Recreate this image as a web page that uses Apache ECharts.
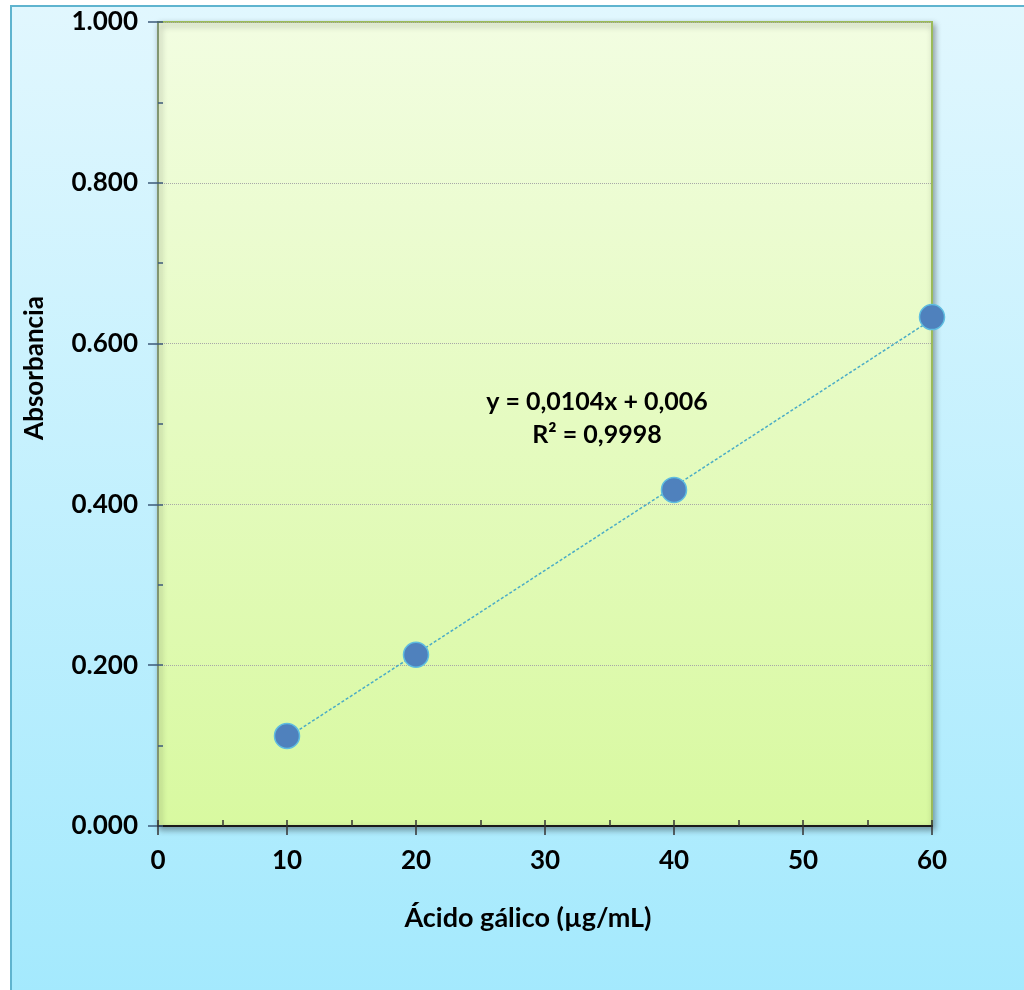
<!DOCTYPE html>
<html><head><meta charset="utf-8">
<style>html,body{margin:0;padding:0;background:#fff}#c{width:1024px;height:990px}</style>
<script src="https://cdn.jsdelivr.net/npm/echarts@6/dist/echarts.min.js"></script>
</head><body><div id="c"></div>
<script>
// Data
const concentrations = [10, 20, 40, 60];
const absorbances = [0.112, 0.213, 0.418, 0.633];
const trendSlope = 0.0104;
const trendIntercept = 0.006;
const trendRange = [10, 60];
const xTitle = 'Ácido gálico (µg/mL)';
const yTitle = 'Absorbancia';
const equationLines = ['y = 0,0104x + 0,006', 'R² = 0,9998'];

const points = concentrations.map((x, i) => [x, absorbances[i]]);
const trendPoints = trendRange.map(x => [x, trendSlope * x + trendIntercept]);

const FONT = 'Lato';
const chart = echarts.init(document.getElementById('c'), null, {renderer: 'canvas'});
const grad = (a, b) => ({type: 'linear', x: 0, y: 0, x2: 0, y2: 1, colorStops: [{offset: 0, color: a}, {offset: 1, color: b}]});

chart.setOption({
  animation: false,
  graphic: [
    {type: 'rect', z: -10, shape: {x: 11, y: 6, width: 1030, height: 1000},
     style: {fill: grad('#e1f7fe', '#a3e9fd'), stroke: '#5fb4cf', lineWidth: 2}},
    {type: 'text', z: 10, style: {text: xTitle, font: 'bold 27px ' + FONT, fill: '#000', x: 528, y: 918, textAlign: 'center', textVerticalAlign: 'middle'}},
    {type: 'text', z: 10, rotation: Math.PI / 2, x: 35, y: 368, style: {text: yTitle, font: 'bold 26px ' + FONT, fill: '#000', x: 0, y: 0, textAlign: 'center', textVerticalAlign: 'middle'}},
    {type: 'text', z: 10, style: {text: equationLines[0], font: 'bold 25px ' + FONT, fill: '#000', x: 597, y: 402, textAlign: 'center', textVerticalAlign: 'middle'}},
    {type: 'text', z: 10, style: {text: equationLines[1], font: 'bold 25px ' + FONT, fill: '#000', x: 597, y: 435, textAlign: 'center', textVerticalAlign: 'middle'}}
  ],
  grid: {left: 158, top: 22, right: 92, bottom: 164, show: true,
    backgroundColor: grad('#f2fde1', '#d8f9a0'), borderColor: '#9bbb59', borderWidth: 2,
    shadowColor: 'rgba(0,0,0,0.35)', shadowBlur: 6, shadowOffsetX: 2, shadowOffsetY: 3},
  xAxis: [
    {type: 'value', min: 0, max: 60, interval: 10, position: 'bottom',
     axisLine: {show: true, onZero: false, lineStyle: {color: '#1a1a1a', width: 2}},
     axisTick: {show: true, inside: false, length: 9, lineStyle: {color: '#333', width: 1.5}},
     minorTick: {show: false},
     axisLabel: {margin: 22, fontFamily: FONT, fontWeight: 'bold', fontSize: 26, color: '#000'},
     splitLine: {show: false}},
    {type: 'value', min: 0, max: 60, interval: 10, position: 'bottom', offset: 0,
     axisLine: {show: false},
     axisTick: {show: true, inside: true, length: 6, lineStyle: {color: '#333', width: 1.5}},
     minorTick: {show: true, splitNumber: 2, length: 6, lineStyle: {color: '#333', width: 1.5}},
     axisLabel: {show: false}, splitLine: {show: false}}
  ],
  yAxis: [
    {type: 'value', min: 0, max: 1, interval: 0.2, position: 'left',
     axisLine: {show: true, onZero: false, lineStyle: {color: '#7a8a7a', width: 1.5}},
     axisTick: {show: true, inside: false, length: 10, lineStyle: {color: '#3c5a78', width: 1.5}},
     axisLabel: {margin: 20, fontFamily: FONT, fontWeight: 'bold', fontSize: 26, color: '#000', formatter: v => v.toFixed(3)},
     splitLine: {show: true, lineStyle: {color: '#a8a8a8', type: 'dotted', width: 1}}},
    {type: 'value', min: 0, max: 1, interval: 0.2, position: 'left', offset: 0,
     axisLine: {show: false},
     axisTick: {show: true, inside: true, length: 5, lineStyle: {color: '#3c5a78', width: 1.5}},
     minorTick: {show: true, splitNumber: 2, length: 5, lineStyle: {color: '#3c5a78', width: 1.5}},
     axisLabel: {show: false}, splitLine: {show: false}}
  ],
  series: [
    {type: 'line', name: 'trend', data: trendPoints, xAxisIndex: 0, yAxisIndex: 0, symbol: 'none', z: 2,
     lineStyle: {color: '#4bacc6', width: 1.5, type: [3, 2]}},
    {type: 'scatter', name: 'data', data: points, xAxisIndex: 0, yAxisIndex: 0, symbolSize: 25, z: 3,
     itemStyle: {color: '#4f81bd', opacity: 1, borderColor: '#5fbde0', borderWidth: 1.5}}
  ]
});
</script></body></html>
